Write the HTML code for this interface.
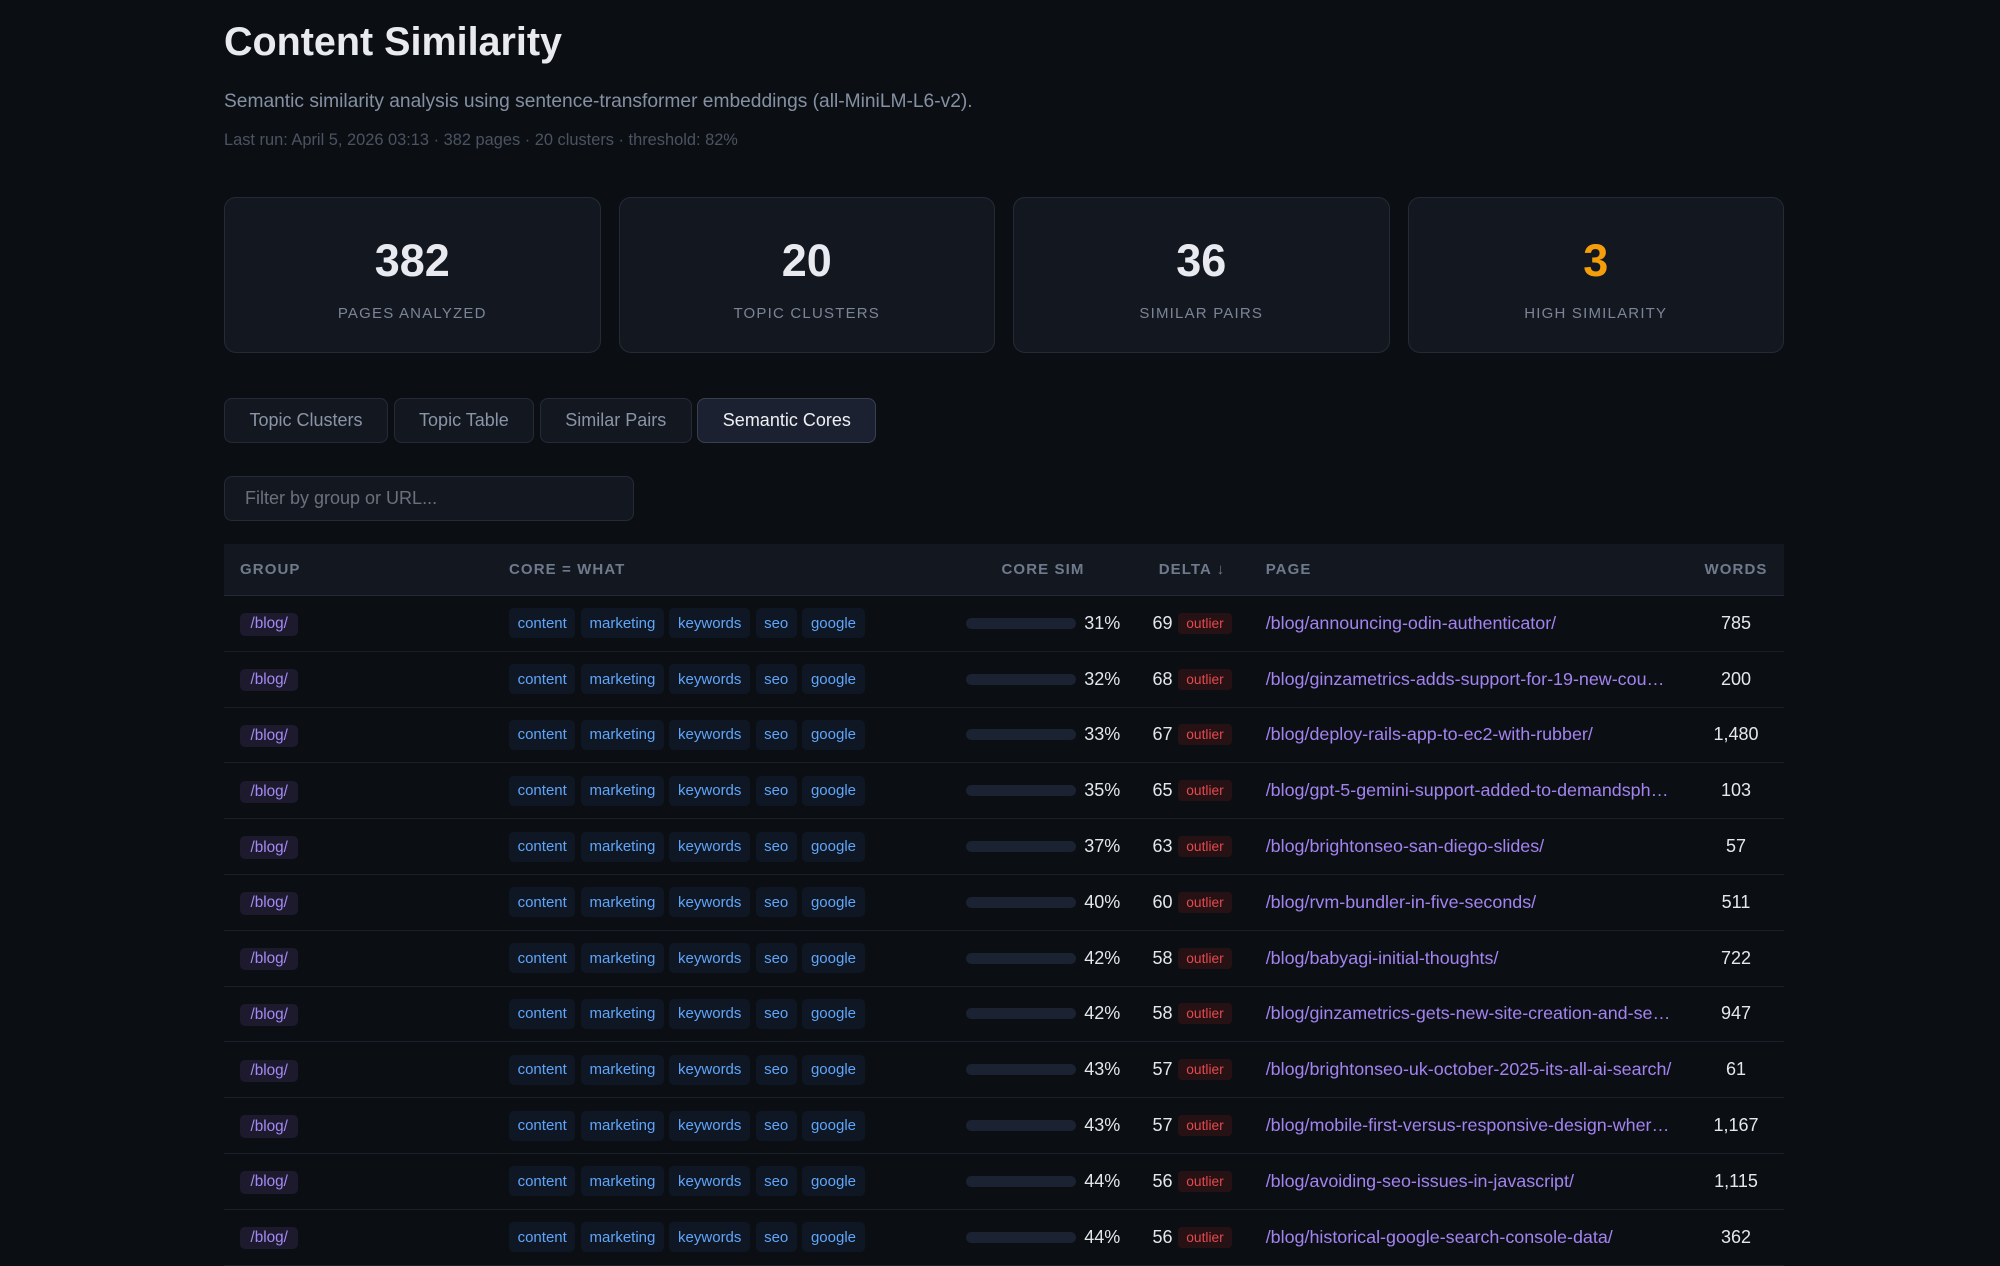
<!DOCTYPE html>
<html>
<head>
<meta charset="utf-8">
<style>
  html,body{margin:0;padding:0;}
  body{width:2000px;height:1265px;overflow:hidden;background:#0b0f14;font-family:"Liberation Sans",Arial,sans-serif;position:relative;}
  .abs{position:absolute;}
  .title{left:224px;top:22px;font-size:39.5px;line-height:40px;font-weight:bold;color:#e8eaf0;white-space:nowrap;}
  .sub{left:224px;top:90px;font-size:19.2px;line-height:24px;color:#8590a2;white-space:nowrap;}
  .meta{left:224px;top:130px;font-size:16.4px;line-height:20px;color:#4b5361;white-space:nowrap;}
  .card{top:197px;width:374.5px;height:154px;background:#131820;border:1px solid #252b36;border-radius:12px;}
  .num{position:absolute;left:0;right:0;top:38px;text-align:center;font-size:45px;line-height:50px;font-weight:bold;color:#e8eaf0;}
  .lbl{position:absolute;left:0;right:0;top:107px;text-align:center;font-size:15px;line-height:18px;letter-spacing:1.2px;color:#7b8597;}
  .tabs{left:224px;top:398px;display:flex;gap:5.5px;}
  .tab{height:43px;padding:0 24.5px;border:1px solid #252b36;background:#131820;border-radius:8px;color:#8a94a6;font-size:18px;display:flex;align-items:center;white-space:nowrap;}
  .tab.active{background:#1b2130;border-color:#394150;color:#eef0f4;}
  .filter{left:224px;top:476px;width:388px;height:43px;border:1px solid #252b36;background:#131820;border-radius:8px;color:#6b717c;font-size:18px;display:flex;align-items:center;padding-left:20px;box-sizing:content-box;}
  .table{left:224px;top:544px;width:1560px;}
  .thead{position:relative;height:51px;background:#131820;border-bottom:1px solid #232a35;}
  .row{position:relative;height:54.8px;border-bottom:1px solid #1a2029;}
  .c{position:absolute;top:0;height:100%;display:flex;align-items:center;white-space:nowrap;}
  .th{font-size:15px;font-weight:bold;letter-spacing:1.1px;color:#6f7b8d;}
  .cg{left:16px;top:1px;}
  .cc{left:285px;}
  .cs{left:728px;width:182px;justify-content:center;}
  .cd{left:910px;width:116px;justify-content:center;}
  .cp{left:1041.7px;width:420px;}
  .cw{left:1464px;width:96px;justify-content:center;}
  .badge{height:22.5px;padding:0 10.5px;border-radius:5px;background:#1d1a2d;color:#a48af5;font-size:15.3px;display:flex;align-items:center;}
  .chips{display:flex;gap:5.5px;}
  .chip{height:30px;padding:0 8.6px;border-radius:5px;background:#0f1724;color:#60a5fa;font-size:15px;display:flex;align-items:center;}
  .bar{width:110px;height:11px;border-radius:6px;background:#1b2231;margin-right:8.5px;}
  .val{font-size:18px;color:#e4e7ec;}
  .out{height:21px;padding:0 7.8px;border-radius:4px;background:#261214;color:#e5484d;font-size:13.75px;display:flex;align-items:center;margin-left:6px;}
  .link{font-size:17.9px;color:#a383f0;}
</style>
</head>
<body>
<div class="abs title">Content Similarity</div>
<div class="abs sub">Semantic similarity analysis using sentence-transformer embeddings (all-MiniLM-L6-v2).</div>
<div class="abs meta">Last run: April 5, 2026 03:13 · 382 pages · 20 clusters · threshold: 82%</div>

<div class="abs card" style="left:224px;"><div class="num">382</div><div class="lbl">PAGES ANALYZED</div></div>
<div class="abs card" style="left:618.5px;"><div class="num">20</div><div class="lbl">TOPIC CLUSTERS</div></div>
<div class="abs card" style="left:1013px;"><div class="num">36</div><div class="lbl">SIMILAR PAIRS</div></div>
<div class="abs card" style="left:1407.5px;"><div class="num" style="color:#f59e0b;">3</div><div class="lbl">HIGH SIMILARITY</div></div>

<div class="abs tabs">
  <div class="tab">Topic Clusters</div>
  <div class="tab">Topic Table</div>
  <div class="tab">Similar Pairs</div>
  <div class="tab active">Semantic Cores</div>
</div>

<div class="abs filter">Filter by group or URL...</div>

<div class="abs table">
  <div class="thead">
    <div class="c th cg" style="top:0">GROUP</div>
    <div class="c th cc">CORE = WHAT</div>
    <div class="c th cs">CORE SIM</div>
    <div class="c th cd">DELTA ↓</div>
    <div class="c th cp">PAGE</div>
    <div class="c th cw">WORDS</div>
  </div>

  <div class="row"><div class="c cg"><span class="badge">/blog/</span></div><div class="c cc"><div class="chips"><span class="chip">content</span><span class="chip">marketing</span><span class="chip">keywords</span><span class="chip">seo</span><span class="chip">google</span></div></div><div class="c cs"><span class="bar"></span><span class="val">31%</span></div><div class="c cd"><span class="val">69</span><span class="out">outlier</span></div><div class="c cp"><span class="link">/blog/announcing-odin-authenticator/</span></div><div class="c cw"><span class="val">785</span></div></div>

  <div class="row"><div class="c cg"><span class="badge">/blog/</span></div><div class="c cc"><div class="chips"><span class="chip">content</span><span class="chip">marketing</span><span class="chip">keywords</span><span class="chip">seo</span><span class="chip">google</span></div></div><div class="c cs"><span class="bar"></span><span class="val">32%</span></div><div class="c cd"><span class="val">68</span><span class="out">outlier</span></div><div class="c cp"><span class="link">/blog/ginzametrics-adds-support-for-19-new-cou…</span></div><div class="c cw"><span class="val">200</span></div></div>

  <div class="row"><div class="c cg"><span class="badge">/blog/</span></div><div class="c cc"><div class="chips"><span class="chip">content</span><span class="chip">marketing</span><span class="chip">keywords</span><span class="chip">seo</span><span class="chip">google</span></div></div><div class="c cs"><span class="bar"></span><span class="val">33%</span></div><div class="c cd"><span class="val">67</span><span class="out">outlier</span></div><div class="c cp"><span class="link">/blog/deploy-rails-app-to-ec2-with-rubber/</span></div><div class="c cw"><span class="val">1,480</span></div></div>

  <div class="row"><div class="c cg"><span class="badge">/blog/</span></div><div class="c cc"><div class="chips"><span class="chip">content</span><span class="chip">marketing</span><span class="chip">keywords</span><span class="chip">seo</span><span class="chip">google</span></div></div><div class="c cs"><span class="bar"></span><span class="val">35%</span></div><div class="c cd"><span class="val">65</span><span class="out">outlier</span></div><div class="c cp"><span class="link">/blog/gpt-5-gemini-support-added-to-demandsph…</span></div><div class="c cw"><span class="val">103</span></div></div>

  <div class="row"><div class="c cg"><span class="badge">/blog/</span></div><div class="c cc"><div class="chips"><span class="chip">content</span><span class="chip">marketing</span><span class="chip">keywords</span><span class="chip">seo</span><span class="chip">google</span></div></div><div class="c cs"><span class="bar"></span><span class="val">37%</span></div><div class="c cd"><span class="val">63</span><span class="out">outlier</span></div><div class="c cp"><span class="link">/blog/brightonseo-san-diego-slides/</span></div><div class="c cw"><span class="val">57</span></div></div>

  <div class="row"><div class="c cg"><span class="badge">/blog/</span></div><div class="c cc"><div class="chips"><span class="chip">content</span><span class="chip">marketing</span><span class="chip">keywords</span><span class="chip">seo</span><span class="chip">google</span></div></div><div class="c cs"><span class="bar"></span><span class="val">40%</span></div><div class="c cd"><span class="val">60</span><span class="out">outlier</span></div><div class="c cp"><span class="link">/blog/rvm-bundler-in-five-seconds/</span></div><div class="c cw"><span class="val">511</span></div></div>

  <div class="row"><div class="c cg"><span class="badge">/blog/</span></div><div class="c cc"><div class="chips"><span class="chip">content</span><span class="chip">marketing</span><span class="chip">keywords</span><span class="chip">seo</span><span class="chip">google</span></div></div><div class="c cs"><span class="bar"></span><span class="val">42%</span></div><div class="c cd"><span class="val">58</span><span class="out">outlier</span></div><div class="c cp"><span class="link">/blog/babyagi-initial-thoughts/</span></div><div class="c cw"><span class="val">722</span></div></div>

  <div class="row"><div class="c cg"><span class="badge">/blog/</span></div><div class="c cc"><div class="chips"><span class="chip">content</span><span class="chip">marketing</span><span class="chip">keywords</span><span class="chip">seo</span><span class="chip">google</span></div></div><div class="c cs"><span class="bar"></span><span class="val">42%</span></div><div class="c cd"><span class="val">58</span><span class="out">outlier</span></div><div class="c cp"><span class="link">/blog/ginzametrics-gets-new-site-creation-and-se…</span></div><div class="c cw"><span class="val">947</span></div></div>

  <div class="row"><div class="c cg"><span class="badge">/blog/</span></div><div class="c cc"><div class="chips"><span class="chip">content</span><span class="chip">marketing</span><span class="chip">keywords</span><span class="chip">seo</span><span class="chip">google</span></div></div><div class="c cs"><span class="bar"></span><span class="val">43%</span></div><div class="c cd"><span class="val">57</span><span class="out">outlier</span></div><div class="c cp"><span class="link">/blog/brightonseo-uk-october-2025-its-all-ai-search/</span></div><div class="c cw"><span class="val">61</span></div></div>

  <div class="row"><div class="c cg"><span class="badge">/blog/</span></div><div class="c cc"><div class="chips"><span class="chip">content</span><span class="chip">marketing</span><span class="chip">keywords</span><span class="chip">seo</span><span class="chip">google</span></div></div><div class="c cs"><span class="bar"></span><span class="val">43%</span></div><div class="c cd"><span class="val">57</span><span class="out">outlier</span></div><div class="c cp"><span class="link">/blog/mobile-first-versus-responsive-design-wher…</span></div><div class="c cw"><span class="val">1,167</span></div></div>

  <div class="row"><div class="c cg"><span class="badge">/blog/</span></div><div class="c cc"><div class="chips"><span class="chip">content</span><span class="chip">marketing</span><span class="chip">keywords</span><span class="chip">seo</span><span class="chip">google</span></div></div><div class="c cs"><span class="bar"></span><span class="val">44%</span></div><div class="c cd"><span class="val">56</span><span class="out">outlier</span></div><div class="c cp"><span class="link">/blog/avoiding-seo-issues-in-javascript/</span></div><div class="c cw"><span class="val">1,115</span></div></div>

  <div class="row"><div class="c cg"><span class="badge">/blog/</span></div><div class="c cc"><div class="chips"><span class="chip">content</span><span class="chip">marketing</span><span class="chip">keywords</span><span class="chip">seo</span><span class="chip">google</span></div></div><div class="c cs"><span class="bar"></span><span class="val">44%</span></div><div class="c cd"><span class="val">56</span><span class="out">outlier</span></div><div class="c cp"><span class="link">/blog/historical-google-search-console-data/</span></div><div class="c cw"><span class="val">362</span></div></div>
</div>
</body>
</html>
